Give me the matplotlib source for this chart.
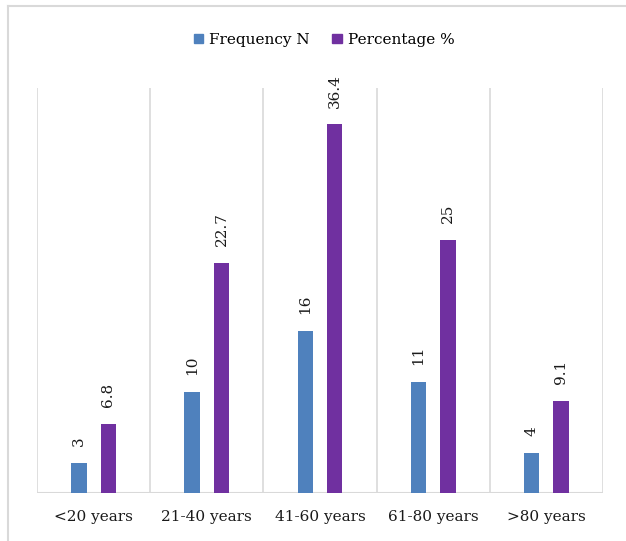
import matplotlib
matplotlib.use("Agg")
import matplotlib.pyplot as plt
from matplotlib.lines import Line2D
from matplotlib.patches import Patch
import numpy as np

categories = ["<20 years", "21-40 years", "41-60 years", "61-80 years", ">80 years"]
frequency = [3, 10, 16, 11, 4]
percentage = [6.8, 22.7, 36.4, 25, 9.1]
freq_labels = ["3", "10", "16", "11", "4"]
pct_labels = ["6.8", "22.7", "36.4", "25", "9.1"]

blue = "#4F81BD"
purple = "#7030A0"
grid = "#D9D9D9"

plt.rcParams['font.family'] = ['DejaVu Serif']

W, H = 626, 541
fig = plt.figure(figsize=(W/100, H/100), dpi=100)
ax = fig.add_axes([37/W, 1-493/H, (603-37)/W, (493-88)/H])

x = np.arange(len(categories))
bw = 0.137
off = 0.13
b1 = ax.bar(x - off, frequency, bw, color=blue, label="Frequency N", zorder=3)
b2 = ax.bar(x + off, percentage, bw, color=purple, label="Percentage %", zorder=3)

for bars, labs in ((b1, freq_labels), (b2, pct_labels)):
    for rect, lab in zip(bars, labs):
        ax.annotate(lab, (rect.get_x() + rect.get_width()/2, rect.get_height()),
                    xytext=(0, 12), textcoords="offset points",
                    rotation=90, ha="center", va="bottom", fontsize=11, color="#1a1a1a")

ax.set_xlim(-0.5, len(categories) - 0.5)
ax.set_ylim(0, 40)
for b in np.arange(-0.5, len(categories), 1.0):
    ax.axvline(b, color=grid, lw=1.2, zorder=1)
for s in ax.spines.values():
    s.set_visible(False)
ax.axhline(0, color=grid, lw=1.5, zorder=2)
ax.set_yticks([])
ax.set_xticks(x)
ax.set_xticklabels(categories, fontsize=11, color="#1a1a1a")
ax.tick_params(axis="x", length=0, pad=12)

handles = [Patch(color=blue, label="Frequency N"), Patch(color=purple, label="Percentage %")]
fig.legend(handles=handles, loc="center", bbox_to_anchor=(324/W, 1-40/H), ncol=2,
           frameon=False, fontsize=11, handlelength=0.6, handleheight=0.6,
           handletextpad=0.4, columnspacing=1.5)

fig.add_artist(Line2D([7.5/W, 1.0], [1-5.5/H, 1-5.5/H], color=grid, lw=1.5, transform=fig.transFigure))
fig.add_artist(Line2D([7.5/W, 7.5/W], [0, 1-5.5/H], color=grid, lw=1.5, transform=fig.transFigure))

fig.savefig("out.png", dpi=100, facecolor="white")
